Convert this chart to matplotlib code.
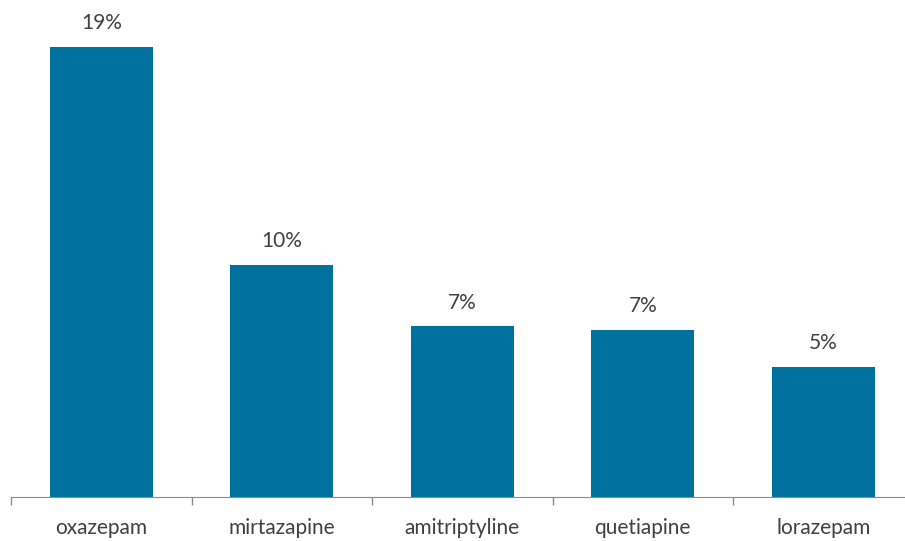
import matplotlib.pyplot as plt
import numpy as np

drugs = ["oxazepam", "mirtazapine", "amitriptyline", "quetiapine", "lorazepam"]
shares = [19.0, 9.8, 7.2, 7.05, 5.5]
labels = ["19%", "10%", "7%", "7%", "5%"]

plt.rcParams["font.family"] = ["Lato", "DejaVu Sans"]
text_color = "#404040"

fig = plt.figure(figsize=(9.05, 5.41), dpi=100)
# axis runs past the right edge of the picture, as in the original
ax = fig.add_axes([11 / 905, 44 / 541, 902.5 / 905, 497 / 541])

x = np.arange(len(drugs))
ax.bar(x, shares, width=0.57, color="#00719F")

for xi, v, lab in zip(x, shares, labels):
    ax.annotate(lab, (xi, v), xytext=(0, 10), textcoords="offset points",
                ha="center", va="bottom", fontsize=15, color=text_color)

ax.set_xlim(-0.5, 4.5)
ax.set_ylim(0, 20.98)
ax.set_xticks(x)
ax.set_xticklabels(drugs, fontsize=15, color=text_color)
ax.tick_params(axis="x", which="major", length=0, pad=15)
ax.set_xticks(np.arange(-0.5, 5, 1.0), minor=True)
ax.tick_params(axis="x", which="minor", length=6, color="#8c8c8c", width=1)
ax.set_yticks([])
for side in ["left", "right", "top"]:
    ax.spines[side].set_visible(False)
ax.spines["bottom"].set_color("#8c8c8c")

fig.savefig("out.png", dpi=100)
